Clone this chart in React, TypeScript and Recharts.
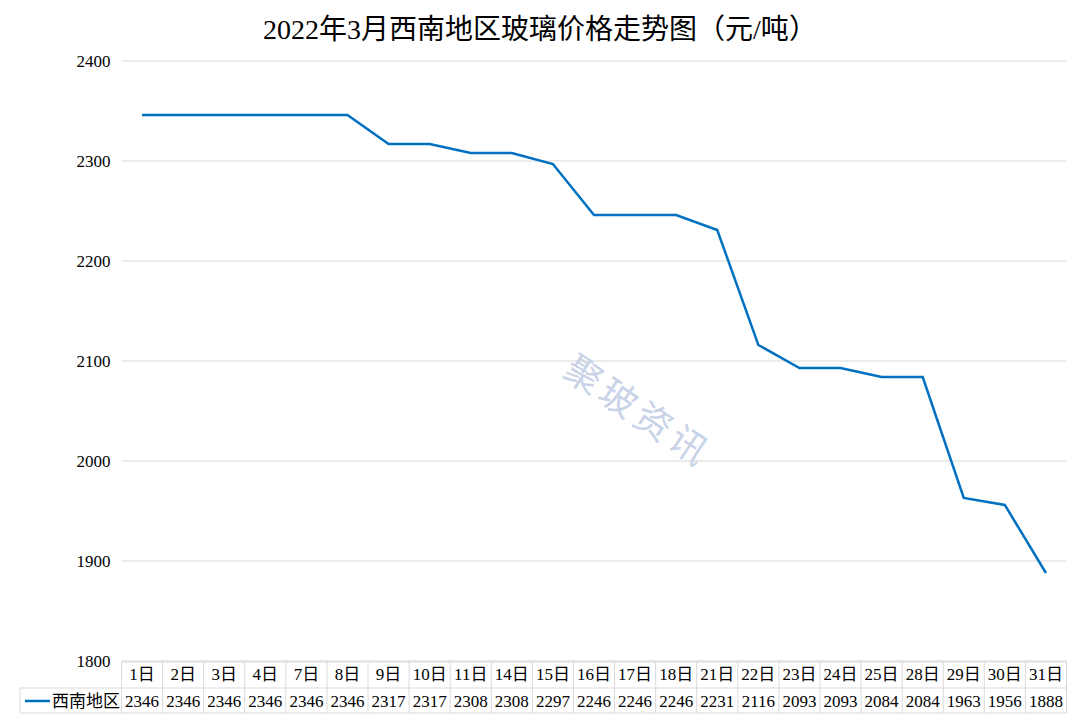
import { LineChart, Line, XAxis, YAxis, CartesianGrid } from "recharts";

const days = [
  "1日", "2日", "3日", "4日", "7日", "8日", "9日", "10日", "11日", "14日", "15日", "16日",
  "17日", "18日", "21日", "22日", "23日", "24日", "25日", "28日", "29日", "30日", "31日",
];
const prices = [
  2346, 2346, 2346, 2346, 2346, 2346, 2317, 2317, 2308, 2308, 2297, 2246,
  2246, 2246, 2231, 2116, 2093, 2093, 2084, 2084, 1963, 1956, 1888,
];
const yTicks = [1800, 1900, 2000, 2100, 2200, 2300, 2400];
const seriesName = "西南地区";

const data = days.map((day, i) => ({ day, price: prices[i] }));

const FONT = "'Liberation Serif', 'Noto Sans CJK SC', serif";
const BLUE = "#0070C0";
const GRID = "#d9d9d9";
const COL = 945 / days.length;

function TableTick(props: any) {
  const { x, y, payload } = props;
  const i = payload.index;
  const left = x - COL / 2;
  const right = x + COL / 2;
  return (
    <g>
      <line x1={left} x2={right} y1={y + 1} y2={y + 1} stroke={GRID} />
      <line x1={left} x2={right} y1={y + 27} y2={y + 27} stroke={GRID} />
      <line x1={left} x2={right} y1={y + 52} y2={y + 52} stroke={GRID} />
      <line x1={right} x2={right} y1={y + 1} y2={y + 52} stroke={GRID} />
      {i === 0 && (
        <g>
          <line x1={left} x2={left} y1={y + 1} y2={y + 52} stroke={GRID} />
          <line x1={20} x2={left} y1={y + 27} y2={y + 27} stroke={GRID} />
          <line x1={20} x2={left} y1={y + 52} y2={y + 52} stroke={GRID} />
          <line x1={20} x2={20} y1={y + 27} y2={y + 52} stroke={GRID} />
          <line x1={25} x2={50} y1={y + 40} y2={y + 40} stroke={BLUE} strokeWidth={2.5} />
          <text x={86} y={y + 46} textAnchor="middle" fontSize={17} fontFamily={FONT} fill="#000">
            {seriesName}
          </text>
        </g>
      )}
      <text x={x} y={y + 19} textAnchor="middle" fontSize={17} fontFamily={FONT} fill="#000">
        {payload.value}
      </text>
      <text x={x} y={y + 46} textAnchor="middle" fontSize={17} fontFamily={FONT} fill="#000">
        {prices[i]}
      </text>
    </g>
  );
}

export default function App() {
  return (
    <div style={{ position: "absolute", left: 0, top: 0, width: 1080, height: 728, background: "#fff" }}>
      <div
        style={{
          position: "absolute",
          top: 7,
          width: 1080,
          textAlign: "center",
          fontFamily: FONT,
          fontSize: 28,
          color: "#000",
        }}
      >
        2022年3月西南地区玻璃价格走势图（元/吨）
      </div>
      <LineChart
        width={1080}
        height={728}
        data={data}
        margin={{ top: 61, right: 13.5, left: 0, bottom: 0 }}
      >
        <CartesianGrid vertical={false} stroke={GRID} />
        <XAxis
          dataKey="day"
          scale="band"
          interval={0}
          axisLine={false}
          tickLine={false}
          tickSize={0}
          tickMargin={0}
          height={67}
          tick={<TableTick />}
        />
        <YAxis
          width={121.5}
          domain={[1800, 2400]}
          ticks={yTicks}
          axisLine={false}
          tickLine={false}
          tickSize={0}
          tickMargin={11}
          tick={{ fill: "#000", fontSize: 17, fontFamily: FONT }}
        />
        <Line
          type="linear"
          dataKey="price"
          stroke={BLUE}
          strokeWidth={2.5}
          dot={false}
          isAnimationActive={false}
        />
      </LineChart>
      <div
        style={{
          position: "absolute",
          left: 570,
          top: 335,
          transform: "rotate(34deg)",
          transformOrigin: "left center",
          fontFamily: "'Noto Sans CJK SC', sans-serif",
          fontSize: 37,
          color: "#c9d3e8",
          letterSpacing: 5,
          pointerEvents: "none",
        }}
      >
        聚玻资讯
      </div>
    </div>
  );
}
